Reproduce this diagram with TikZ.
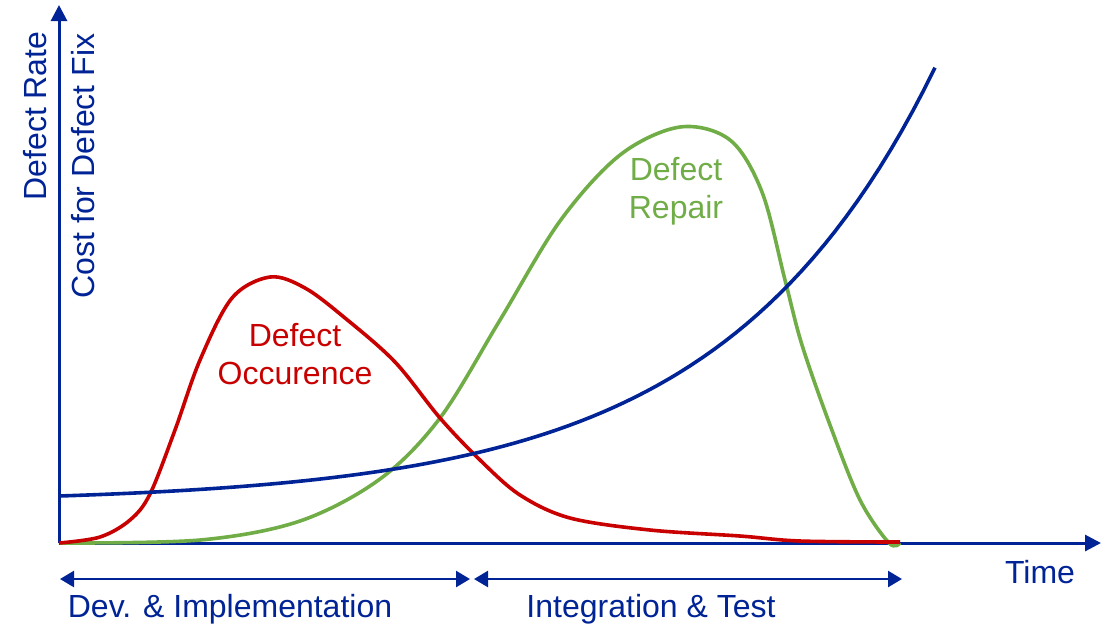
\documentclass[tikz,border=0pt]{standalone}
\usepackage{fontspec}
\setmainfont{Liberation Sans}
\usepackage{xcolor}
\usetikzlibrary{arrows.meta}

\definecolor{axisblue}{RGB}{0,35,149}
\definecolor{occred}{RGB}{200,0,0}
\definecolor{repgreen}{RGB}{112,173,71}

\begin{document}
\begin{tikzpicture}[x=0.5pt,y=-0.5pt,line join=round,
    axis/.style={draw=axisblue,line width=1.5pt,-{Triangle[length=8pt,width=8pt]}},
    phase/.style={draw=axisblue,line width=1.2pt,{Triangle[length=7pt,width=8pt]}-{Triangle[length=7pt,width=8pt]}},
    curve/.style={line width=1.8pt},
    lbl/.style={font=\fontsize{16}{19}\selectfont,align=center,inner sep=0pt}]
    \useasboundingbox (0,0) rectangle (1112,629);
    % axes
    \coordinate (o) at (59,543);
    \coordinate (ytop) at (59,5);
    \coordinate (xend) at (1101,543);
    \draw[axis] (o) -- (ytop);
    \draw[axis] (o) -- (xend);
    \node[lbl,text=axisblue,rotate=90] (rate) at (35,116) {Defect Rate};
    \node[lbl,text=axisblue,rotate=90] (cost) at (83,166) {Cost for Defect Fix};
    \node[lbl,text=axisblue] (time) at (1040,572) {Time};
    % curves
    \draw[curve,repgreen] plot[smooth,tension=0.55] coordinates {(59,543) (200,540) (300,521) (380,479) (440,418) (500,320) (560,221) (620,155) (680,127) (730,140) (762,192) (785,280) (802,345) (830,425) (860,500) (889,543) (900,543)};
    \draw[curve,occred] plot[smooth,tension=0.55] coordinates {(59,543) (100,537) (130,520) (150,494) (175,430) (200,360) (232,298) (270,277) (305,288) (345,318) (395,362) (440,418) (480,460) (520,495) (570,518) (650,530) (740,536) (800,541) (900,542)};
    \draw[curve,axisblue] plot[domain=59:935,samples=80] (\x,{543-40-7*exp(0.00471*(\x-59))});
    \node[lbl,text=occred] (occ) at (295,354) {Defect\\Occurence};
    \node[lbl,text=repgreen] (rep) at (676,191) {Defect\\Repair};
    % phases
    \coordinate (p0) at (60,579);
    \coordinate (p1) at (470,579);
    \coordinate (p2) at (474,579);
    \coordinate (p3) at (902,579);
    \draw[phase] (p0) -- (p1);
    \draw[phase] (p2) -- (p3);
    \node[lbl,text=axisblue] (dev) at (230,609) {Dev. \& Implementation};
    \node[lbl,text=axisblue] (integ) at (651,609) {Integration \& Test};
\end{tikzpicture}
\end{document}
